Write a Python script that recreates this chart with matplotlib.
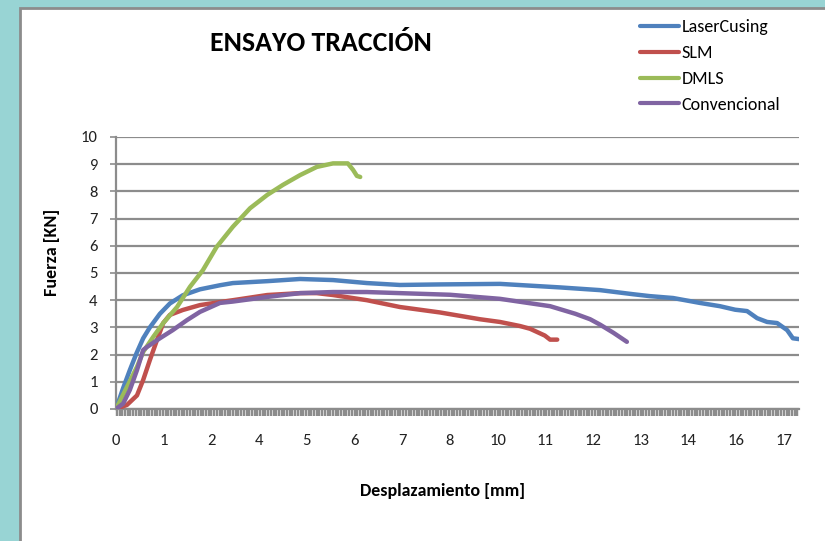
import matplotlib
matplotlib.use("Agg")
import matplotlib.pyplot as plt
from matplotlib import font_manager
import numpy as np
from matplotlib.patches import Rectangle

# x values are positions along Excel's category axis (one unit = one label step)
tick_labels = ["0", "1", "2", "4", "5", "6", "7", "8", "10", "11", "12", "13", "14", "16", "17"]
y_ticks = list(range(0, 11))

laser_x = [0.0, 0.15, 0.29, 0.43, 0.57, 0.71, 0.92, 1.13, 1.40, 1.76, 2.18, 2.45, 3.17, 3.86, 4.55,
           5.26, 5.95, 6.79, 8.05, 9.31, 10.15, 10.84, 11.19, 11.68, 12.24, 12.66, 12.98, 13.23,
           13.44, 13.65, 13.86, 14.07, 14.19, 14.32]
laser_y = [0.0, 0.77, 1.43, 2.05, 2.60, 3.00, 3.50, 3.88, 4.18, 4.40, 4.55, 4.63, 4.70, 4.78, 4.74,
           4.63, 4.56, 4.58, 4.60, 4.47, 4.37, 4.22, 4.15, 4.08, 3.90, 3.78, 3.65, 3.60,
           3.34, 3.20, 3.16, 2.90, 2.60, 2.57]

slm_x = [0.0, 0.23, 0.44, 0.57, 0.71, 0.86, 0.99, 1.13, 1.40, 1.76, 2.18, 2.45, 3.17, 3.86, 4.21,
         4.55, 5.26, 5.95, 6.79, 7.63, 8.05, 8.47, 8.68, 8.99, 9.10, 9.25]
slm_y = [0.0, 0.15, 0.50, 1.07, 1.80, 2.54, 3.16, 3.46, 3.64, 3.82, 3.93, 4.00, 4.19, 4.26, 4.26,
         4.19, 4.00, 3.75, 3.55, 3.30, 3.20, 3.05, 2.95, 2.70, 2.55, 2.55]

dmls_x = [0.0, 0.23, 0.44, 0.57, 0.78, 0.99, 1.28, 1.55, 1.82, 2.11, 2.45, 2.81, 3.17, 3.50, 3.86,
          4.21, 4.55, 4.86, 4.97, 5.05, 5.12]
dmls_y = [0.0, 0.81, 1.55, 2.10, 2.65, 3.16, 3.75, 4.49, 5.10, 5.96, 6.70, 7.38, 7.87, 8.24, 8.60,
          8.90, 9.03, 9.03, 8.79, 8.57, 8.53]

conv_x = [0.0, 0.15, 0.29, 0.44, 0.57, 0.65, 0.92, 1.19, 1.49, 1.76, 2.18, 2.45, 3.17, 3.86, 4.55,
          5.26, 5.95, 7.00, 8.05, 9.10, 9.63, 9.94, 10.15, 10.43, 10.71]
conv_y = [0.0, 0.20, 0.70, 1.43, 2.17, 2.28, 2.60, 2.90, 3.27, 3.57, 3.90, 3.95, 4.12, 4.26, 4.30,
          4.30, 4.26, 4.20, 4.05, 3.78, 3.50, 3.30, 3.10, 2.80, 2.47]

series = [
    ("LaserCusing", laser_x, laser_y, "#4F81BD"),
    ("SLM", slm_x, slm_y, "#C0504D"),
    ("DMLS", dmls_x, dmls_y, "#9BBB59"),
    ("Convencional", conv_x, conv_y, "#8064A2"),
]

available = {f.name for f in font_manager.fontManager.ttflist}
main_font = "DejaVu Sans"
for cand in ["Carlito", "Liberation Sans Narrow", "Roboto Condensed", "Open Sans Condensed", "Lato"]:
    if cand in available:
        main_font = cand
        break
plt.rcParams["font.family"] = [main_font, "DejaVu Sans"]

W, H = 825, 541
fig = plt.figure(figsize=(W / 100, H / 100), dpi=100)
fig.patch.set_facecolor("#98D4D4")
# white chart area with grey border
fig.patches.append(Rectangle((20 / W, -0.1), 1.2, 1 - 8 / H + 0.1, transform=fig.transFigure,
                             facecolor="white", edgecolor="#8C8C8C", linewidth=2, zorder=-5))

x0, x_step = 116, 47.7
ax = fig.add_axes([x0 / W, 1 - 409 / H, (799 - x0) / W, (409 - 137) / H])
ax.set_facecolor("none")
ax.set_zorder(2)

for name, xs, ys, c in series:
    ax.plot(xs, ys, color=c, linewidth=3.2, solid_capstyle="round", solid_joinstyle="round",
            label=name, zorder=3)

ax.set_xlim(0, (799 - x0) / x_step)
ax.set_ylim(0, 10)
ax.set_yticks(y_ticks)
ax.set_xticks(np.arange(len(tick_labels)))
ax.set_xticklabels(tick_labels)
ax.set_xticks(np.arange(0.02, 14.32, 0.0566), minor=True)

ax.grid(axis="y", color="#8C8C8C", linewidth=1.6, zorder=1)
for s in ["top", "right"]:
    ax.spines[s].set_visible(False)
ax.spines["left"].set_color("#8C8C8C")
ax.spines["left"].set_linewidth(1.6)
ax.spines["bottom"].set_color("#8C8C8C")
ax.spines["bottom"].set_linewidth(1.6)

ax.tick_params(axis="y", direction="out", length=4.3, width=1.2, color="#8C8C8C",
               labelsize=12, labelcolor="#222222", pad=9)
ax.tick_params(axis="x", which="major", length=0, labelsize=12, labelcolor="#222222", pad=18)
ax.tick_params(axis="x", which="minor", direction="out", length=5, width=1.75, color="#8C8C8C")

fig.text(52 / W, 1 - 252 / H, "Fuerza [KN]", fontsize=13, fontweight="bold",
         rotation=90, ha="center", va="center")
fig.text(443 / W, 1 - 491 / H, "Desplazamiento [mm]", fontsize=13, fontweight="bold",
         ha="center", va="center")

fig.text(321 / W, 1 - 43 / H, "ENSAYO TRACCIÓN", fontsize=20, fontweight="bold",
         ha="center", va="center")

leg = fig.legend(loc="upper left", bbox_to_anchor=(640 / W, 1 - 19 / H), frameon=False,
                 fontsize=13, handlelength=2.15, handletextpad=0.15, labelspacing=0.55,
                 borderaxespad=0, borderpad=0)
for line in leg.get_lines():
    line.set_linewidth(3)

fig.savefig("out.png", dpi=100, facecolor=fig.get_facecolor())
